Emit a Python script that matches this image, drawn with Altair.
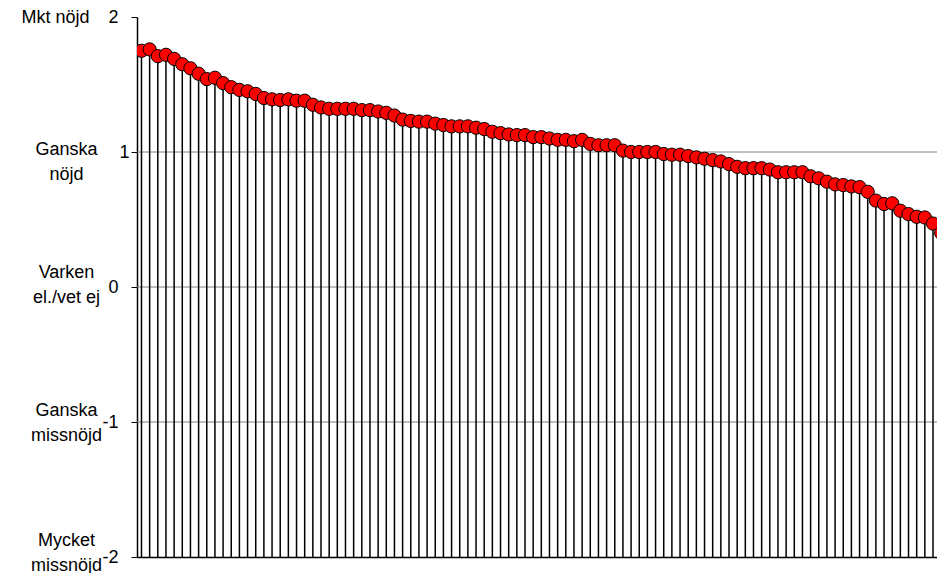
import altair as alt
import pandas as pd

# Satisfaction score per unit, sorted descending
scores = [
    1.75, 1.76, 1.71, 1.72, 1.69, 1.65, 1.62, 1.58, 1.54, 1.55,
    1.51, 1.48, 1.46, 1.45, 1.43, 1.40, 1.39, 1.385, 1.39, 1.38,
    1.38, 1.35, 1.33, 1.32, 1.32, 1.32, 1.32, 1.31, 1.31, 1.30,
    1.29, 1.27, 1.24, 1.23, 1.225, 1.225, 1.21, 1.20, 1.19, 1.19,
    1.19, 1.18, 1.17, 1.15, 1.14, 1.13, 1.125, 1.125, 1.11, 1.11,
    1.10, 1.09, 1.09, 1.08, 1.09, 1.06, 1.05, 1.05, 1.05, 1.01,
    1.00, 1.00, 1.00, 1.00, 0.985, 0.98, 0.98, 0.97, 0.96, 0.95,
    0.94, 0.93, 0.91, 0.89, 0.88, 0.88, 0.88, 0.87, 0.85, 0.85,
    0.85, 0.85, 0.82, 0.805, 0.78, 0.76, 0.755, 0.745, 0.74, 0.705,
    0.64, 0.615, 0.62, 0.565, 0.54, 0.52, 0.515, 0.47, 0.40, 0.35,
]
units = list(range(len(scores)))

# Y axis levels and their Swedish names
level_values = [2, 1, 0, -1, -2]
level_names = [
    ["Mkt nöjd"],
    ["Ganska", "nöjd"],
    ["Varken", "el./vet ej"],
    ["Ganska", "missnöjd"],
    ["Mycket", "missnöjd"],
]
grid_values = [1, 0, -1]

df = pd.DataFrame({"unit": units, "score": scores})

FONT = "Liberation Sans"


def arr(lines):
    return "[" + ",".join("'" + s + "'" for s in lines) + "]"


expr = "''"
for v, n in reversed(list(zip(level_values, level_names))):
    expr = f"datum.value == {v} ? {arr(n)} : ({expr})"

x_enc = alt.X(
    "unit:Q",
    scale=alt.Scale(domain=[-0.55, 98.47], nice=False, zero=False),
    axis=alt.Axis(labels=False, ticks=False, grid=False, title=None,
                  domainColor="#000000", domainWidth=1.5),
)

num_axis = alt.Axis(
    orient="left",
    values=level_values,
    labelExpr="datum.value + ''",
    labelFont=FONT, labelFontSize=18, labelColor="#000000",
    labelPadding={"condition": {"test": "datum.value == 1", "value": 2}, "value": 13},
    tickSize=6, tickColor="#000000", tickWidth=1,
    domainColor="#000000", domainWidth=1.5,
    grid=False,
    title=None, labelFlush=False, labelOverlap=False,
)

text_axis = alt.Axis(
    orient="left",
    values=level_values,
    labelExpr=expr,
    labelFont=FONT, labelFontSize=18, labelColor="#000000",
    labelAlign="center", labelBaseline="middle", labelLineHeight=25,
    labelPadding={"condition": {"test": "datum.value == 2", "value": 82}, "value": 71},
    labelOffset={
        "condition": [
            {"test": "datum.value == 1", "value": -3},
            {"test": "datum.value == 0", "value": -15},
            {"test": "datum.value == -1", "value": -12},
            {"test": "datum.value == -2", "value": -17},
        ],
        "value": 0,
    },
    domain=False, ticks=False, grid=False,
    title=None, labelFlush=False, labelOverlap=False,
)

y_scale = alt.Scale(domain=[-2, 2], nice=False, zero=False)

grid = alt.Chart(pd.DataFrame({"g": grid_values})).mark_rule(
    color="#808080", strokeWidth=1
).encode(y=alt.Y("g:Q", scale=y_scale, axis=None))

stems = alt.Chart(df).mark_rule(color="#000000", strokeWidth=1.5, clip=True).encode(
    x=x_enc,
    y=alt.Y("score:Q", scale=y_scale, axis=num_axis),
    y2=alt.datum(-2),
)

dots = alt.Chart(df).mark_point(
    shape="circle", filled=True, fill="#FF0000", stroke="#000000",
    strokeWidth=1, size=175, opacity=1, clip=True,
).encode(
    x=x_enc,
    y=alt.Y("score:Q", scale=y_scale, axis=text_axis),
)

chart = alt.layer(grid, stems, dots).resolve_axis(y="independent").properties(
    width=808,
    height=540,
    background="#FFFFFF",
    autosize=alt.AutoSizeParams(type="none"),
    padding={"left": 129, "top": 9, "right": -8, "bottom": 16},
).configure_view(stroke=None)

chart.save("out.html", embed_options={"renderer": "svg", "actions": False})
